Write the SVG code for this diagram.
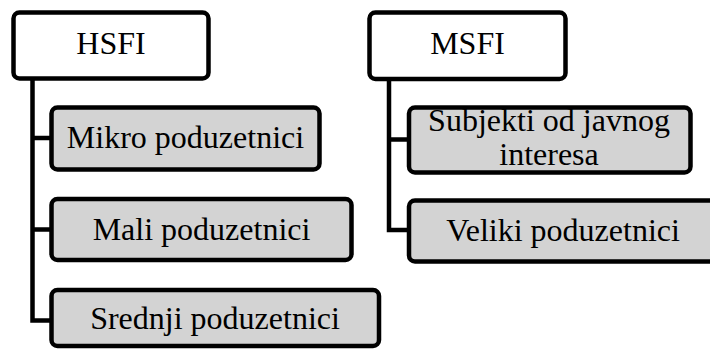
<svg xmlns="http://www.w3.org/2000/svg" width="710" height="350" viewBox="0 0 710 350">
<style>
.box{stroke:#000;stroke-width:4.5;}
.top{fill:#fff;}
.sub{fill:#d3d3d3;}
.lbl{font-family:'Liberation Serif','DejaVu Serif',serif;font-size:32px;fill:#000;text-anchor:middle;}
.con{fill:none;stroke:#000;stroke-width:4.5;stroke-linejoin:miter;}
</style>
<rect width="710" height="350" fill="#fff"/>
<g id="connectors">
<path class="con" d="M32.5 79 V320.5 H51.5 M32.5 138 H51.5 M32.5 229.5 H51.5"/>
<path class="con" d="M389 79 V230 H409 M389 139.5 H409"/>
</g>
<g id="hsfi">
<rect class="box top" x="13.5" y="12.5" width="195" height="66" rx="6"/>
<text class="lbl" x="111" y="54">HSFI</text>
</g>
<g id="mikro">
<rect class="box sub" x="51.5" y="107.5" width="268" height="62" rx="6"/>
<text class="lbl" x="185.5" y="148">Mikro poduzetnici</text>
</g>
<g id="mali">
<rect class="box sub" x="51.5" y="199" width="300" height="61" rx="6"/>
<text class="lbl" x="201.5" y="240">Mali poduzetnici</text>
</g>
<g id="srednji">
<rect class="box sub" x="51.5" y="290" width="327.5" height="56" rx="6"/>
<text class="lbl" x="215" y="329">Srednji poduzetnici</text>
</g>
<g id="msfi">
<rect class="box top" x="369.5" y="12.5" width="196" height="66.5" rx="6"/>
<text class="lbl" x="467.5" y="54">MSFI</text>
</g>
<g id="subjekti">
<rect class="box sub" x="409" y="107.5" width="281.5" height="65" rx="6"/>
<text class="lbl" x="549" y="131">Subjekti od javnog</text>
<text class="lbl" x="549" y="165">interesa</text>
</g>
<g id="veliki">
<rect class="box sub" x="409" y="200.5" width="308" height="61" rx="6"/>
<text class="lbl" x="563" y="240.5">Veliki poduzetnici</text>
</g>
</svg>
